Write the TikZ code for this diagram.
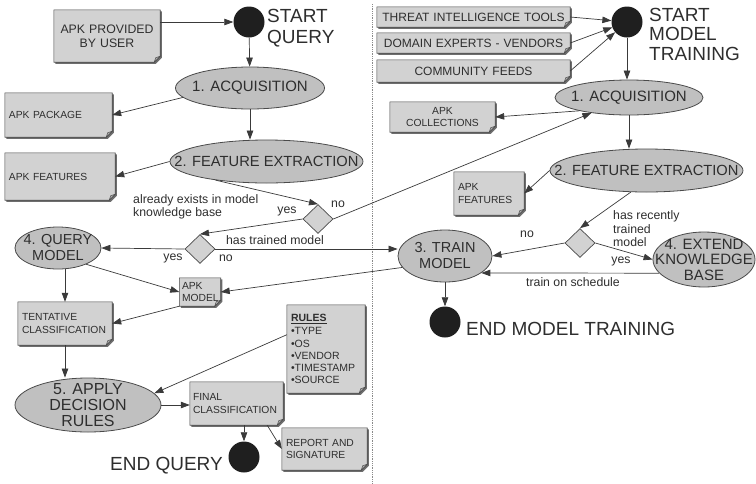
\documentclass[tikz,border=0pt]{standalone}
\usepackage{fontspec}
\setmainfont{Liberation Sans}
\usetikzlibrary{shapes.geometric,arrows.meta,backgrounds}
\definecolor{txt}{HTML}{2E2E2E}
\definecolor{docfill}{HTML}{D2D2D2}
\definecolor{docline}{HTML}{4A4A4A}
\definecolor{shadowc}{HTML}{6E6E6E}
\definecolor{foldc}{HTML}{B0B0B0}
\definecolor{ellfill}{HTML}{C0C0C0}
\definecolor{ellline}{HTML}{4A4A4A}
\definecolor{linec}{HTML}{3A3A3A}
\definecolor{dotc}{HTML}{8A8A8A}
\tikzset{
  doc/.style={rectangle, inner xsep=4pt, inner ysep=1pt, text=txt, font=\fontsize{10.3}{12.5}\selectfont},
  ell/.style={ellipse, draw=ellline, fill=ellfill, line width=0.8pt, inner sep=0pt},
  elltext/.style={text=txt, align=center, font=\fontsize{15}{16}\selectfont},
  dia/.style={diamond, draw=ellline, fill=docfill, line width=0.7pt, inner sep=0pt, minimum width=30pt, minimum height=29pt},
  term/.style={circle, fill=black!88, inner sep=0pt, minimum size=31pt},
  big/.style={text=txt, font=\fontsize{19}{20.5}\selectfont, align=left, inner sep=0pt},
  lbl/.style={text=txt, font=\fontsize{12.3}{13.5}\selectfont, inner sep=0pt, align=left},
  arr/.style={draw=linec, line width=0.7pt, -{Triangle[length=9pt,width=6.5pt]}}
}
\begin{document}
\begin{tikzpicture}[x=1pt,y=-1pt]
\useasboundingbox (0,0) rectangle (756,483);
% divider
\draw[dotc, densely dotted, line width=0.8pt] (372,4) -- (372,483);

% ---------- left: query ----------
\node[doc, text width=98pt, minimum height=52pt, align=center, font=\fontsize{12.3}{14}\selectfont] (userapk) at (107,36) {APK PROVIDED\\BY USER};
\node[term] (startq) at (249,22) {};
\node[big, anchor=west] (startqlbl) at (267,28) {START\\QUERY};
\node[ell, minimum width=149pt, minimum height=42pt, label={[elltext]center:1. ACQUISITION}] (acq1) at (250,88) {};
\node[doc, text width=99pt, minimum height=44pt, align=left] (pkg) at (58.5,115) {APK PACKAGE\\[2pt]};
\node[ell, minimum width=193pt, minimum height=43pt, label={[elltext, font=\fontsize{14.7}{16}\selectfont]center:2. FEATURE EXTRACTION}] (fe1) at (266.5,161.5) {};
\node[doc, text width=102pt, minimum height=47pt, align=left] (feat1) at (60,176.5) {APK FEATURES\\[4pt]};
\node[dia] (d1) at (318,219) {};
\node[dia] (d2) at (200,249) {};
\node[ell, minimum width=86pt, minimum height=42pt, label={[elltext, font=\fontsize{14.5}{16}\selectfont]center:4. QUERY\\MODEL}] (qm) at (58,248) {};
\node[doc, inner xsep=2.5pt, text width=36pt, minimum height=28pt, align=left] (apkmodel) at (200,292) {APK\\MODEL};
\node[doc, text width=86pt, minimum height=43pt, align=left] (tent) at (65,323.5) {TENTATIVE\\CLASSIFICATION\\[3pt]};
\node[ell, minimum width=146pt, minimum height=54pt, label={[elltext, font=\fontsize{16}{16}\selectfont]center:5. APPLY\\DECISION\\RULES}] (adr) at (88,405) {};
\node[doc, text width=70pt, minimum height=88pt, align=left, font=\fontsize{10.5}{12.2}\selectfont] (rules) at (326,349) {\textbf{\underline{RULES}}\\[1pt]\textbullet TYPE\\\textbullet OS\\\textbullet VENDOR\\\textbullet TIMESTAMP\\\textbullet SOURCE\\[6pt]};
\node[doc, inner xsep=3pt, text width=87pt, minimum height=43pt, align=left] (final) at (236.5,403.5) {FINAL\\CLASSIFICATION\\[4pt]};
\node[term] (endq) at (244,457) {};
\node[big, anchor=east] (endqlbl) at (223,466) {END QUERY};
\node[doc, text width=77pt, minimum height=42pt, align=left] (report) at (324.5,449) {REPORT AND\\SIGNATURE\\[3pt]};

% ---------- right: training ----------
\node[doc, text width=185pt, minimum height=20pt, align=center, font=\fontsize{12}{13}\selectfont] (threat) at (473.5,17) {THREAT INTELLIGENCE TOOLS};
\node[doc, text width=185pt, minimum height=20pt, align=center, font=\fontsize{12}{13}\selectfont] (domain) at (473.5,43) {DOMAIN EXPERTS - VENDORS};
\node[doc, text width=185pt, minimum height=22pt, align=center, font=\fontsize{12}{13}\selectfont] (community) at (473.5,71) {COMMUNITY FEEDS};
\node[term] (startm) at (627,22) {};
\node[big, anchor=west, font=\fontsize{19}{19.5}\selectfont] (startmlbl) at (649,34) {START\\MODEL\\TRAINING};
\node[ell, minimum width=148pt, minimum height=35pt, label={[elltext]center:1. ACQUISITION}] (acq2) at (629,97.5) {};
\node[doc, text width=97pt, minimum height=30pt, align=center] (coll) at (442.5,117) {APK\\COLLECTIONS};
\node[ell, minimum width=193pt, minimum height=43pt, label={[elltext, font=\fontsize{14.7}{16}\selectfont]center:2. FEATURE EXTRACTION}] (fe2) at (646.5,170.5) {};
\node[doc, text width=62pt, minimum height=43pt, align=left] (feat2) at (489,193.5) {APK\\FEATURES\\[5pt]};
\node[dia] (d3) at (580,243) {};
\node[ell, minimum width=94pt, minimum height=52pt, label={[elltext, font=\fontsize{14.5}{16}\selectfont]center:3. TRAIN\\MODEL}] (tm) at (445,256) {};
\node[ell, minimum width=102pt, minimum height=55pt, label={[elltext, font=\fontsize{15}{15.5}\selectfont]center:4. EXTEND\\KNOWLEDGE\\BASE}] (ekb) at (704,259.5) {};
\node[term] (endm) at (445,322) {};
\node[big, anchor=west] (endmlbl) at (466,329) {END MODEL TRAINING};

% ---------- document shapes ----------
\begin{scope}[on background layer]
\foreach \n in {userapk,pkg,feat1,apkmodel,tent,rules,final,report,threat,domain,community,coll,feat2}{
  \fill[shadowc] ([xshift=1.6pt,yshift=-1.6pt]\n.north west) -- ([xshift=1.6pt,yshift=-1.6pt]\n.north east)
     -- ([xshift=1.6pt,yshift=4.4pt]\n.south east) -- ([xshift=-4.4pt,yshift=-1.6pt]\n.south east)
     -- ([xshift=1.6pt,yshift=-1.6pt]\n.south west) -- cycle;
  \filldraw[fill=docfill, draw=docline, line width=0.6pt] (\n.north west) -- (\n.north east)
     -- ([yshift=6pt]\n.south east) -- ([xshift=-6pt]\n.south east) -- (\n.south west) -- cycle;
  \filldraw[fill=foldc, draw=docline, line width=0.5pt] ([yshift=6pt]\n.south east) -- ([xshift=-6pt]\n.south east)
     -- ([xshift=-4.5pt,yshift=4.5pt]\n.south east) -- cycle;
}
\end{scope}

% ---------- connectors: left ----------
\draw[arr] (userapk.east |- startq) -- (startq);
\draw[arr] (startq) -- (acq1);
\draw[arr] (acq1.188) -- (pkg.east);
\draw[arr] (acq1.south) -- (acq1.south |- fe1.north);
\draw[arr] (fe1.west) -- (feat1.east);
\draw[arr] (fe1.200) -- (d1.north);
\draw[arr] (d1.west) -- (d2.north);
\draw[arr] (d1.east) -- (acq2);
\draw[arr] (d2.west) -- (qm.east);
\draw[arr] (d2.east) -- (d2.east -| tm.west);
\draw[arr] (qm.-30) -- (apkmodel.west);
\draw[arr] (tm.195) -- (apkmodel.east);
\draw[arr] (qm.south -| tent.north) -- (tent.north);
\draw[arr] (apkmodel.south west) -- (tent.east);
\draw[arr] (tent.south) -- (tent.south |- adr.north);
\draw[arr] (rules.160) -- (adr.10);
\draw[arr] (adr.east) -- (adr.east -| final.west);
\draw[arr] (endq.north |- final.south) -- (endq.north);
\draw[arr] ([xshift=-16pt]final.south east) -- (report.west);

\node[lbl, anchor=west] (lexists) at (133,207) {already exists in model\\knowledge base};
\node[lbl] (lyes1) at (287,211) {yes};
\node[lbl] (lno1) at (338,204) {no};
\node[lbl] (lhas) at (275,240) {has trained model};
\node[lbl] (lyes2) at (173,258) {yes};
\node[lbl] (lno2) at (226,258) {no};

% ---------- connectors: right ----------
\draw[arr] (threat.east) -- (startm);
\draw[arr] (domain.east) -- (startm);
\draw[arr] (community.east) -- (startm);
\draw[arr] (startm.south) -- (startm.south |- acq2.north);
\draw[arr] (acq2.195) -- (coll.east);
\draw[arr] (acq2.south) -- (acq2.south |- fe2.north);
\draw[arr] (fe2.west) -- (feat2.east);
\draw[arr] (fe2.234) -- (d3.north);
\draw[arr] (d3.west) -- (tm.east);
\draw[arr] (d3.east) -- (ekb.west);
\draw[arr] (ekb.197) -- (tm.-25.5);
\draw[arr] (tm.south) -- (endm.north);

\node[lbl, anchor=west] (lrecent) at (613,229) {has recently\\trained\\model};
\node[lbl] (lno3) at (527,234) {no};
\node[lbl] (lyes3) at (621,261) {yes};
\node[lbl] (lsched) at (573,282) {train on schedule};
\end{tikzpicture}
\end{document}
